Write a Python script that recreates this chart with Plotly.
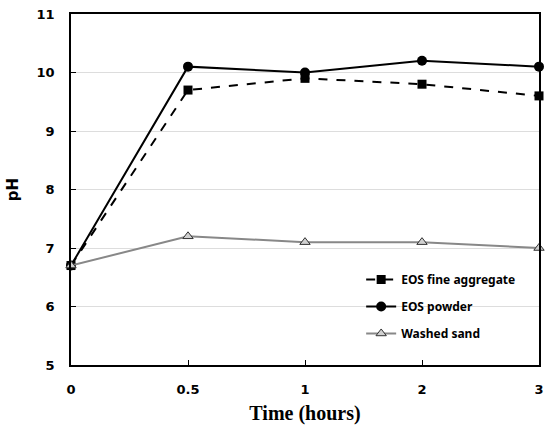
import plotly.graph_objects as go

time_labels = ["0", "0.5", "1", "2", "3"]
eos_fine = [6.7, 9.7, 9.9, 9.8, 9.6]
eos_powder = [6.7, 10.1, 10.0, 10.2, 10.1]
washed_sand = [6.7, 7.2, 7.1, 7.1, 7.0]

xpos = list(range(len(time_labels)))

fig = go.Figure()
fig.add_trace(go.Scatter(x=xpos, y=eos_fine, name="EOS fine aggregate", mode="lines+markers",
                         legendgroup="a",
                         line=dict(color="black", width=2, dash="dash"),
                         marker=dict(symbol="square", size=9, color="black"), cliponaxis=False))
fig.add_trace(go.Scatter(x=xpos, y=eos_powder, name="EOS powder", mode="lines+markers",
                         legendgroup="b",
                         line=dict(color="black", width=2),
                         marker=dict(symbol="circle", size=10, color="black"), cliponaxis=False))
fig.add_trace(go.Scatter(x=xpos, y=washed_sand, name="Washed sand", mode="lines+markers",
                         legendgroup="c",
                         line=dict(color="#888888", width=2),
                         marker=dict(symbol="triangle-up", size=9, color="#d0d0d0",
                                     line=dict(color="#333333", width=1)), cliponaxis=False))

fig.update_layout(
    width=547, height=431,
    margin=dict(l=71, r=3, t=14, b=66),
    paper_bgcolor="white", plot_bgcolor="white",
    font=dict(family="DejaVu Sans", color="black"),
    legend=dict(x=0.62, y=0.285, xanchor="left", yanchor="top",
                font=dict(family="Noto Sans", size=12, color="black", weight="bold"),
                bgcolor="rgba(0,0,0,0)", tracegroupgap=8, itemwidth=30,
                traceorder="grouped"),
    xaxis=dict(range=[0, 4], tickvals=xpos, ticktext=time_labels,
               showline=True, linecolor="black", linewidth=1.5, mirror=True,
               ticks="inside", ticklen=5, tickcolor="black", showgrid=False, zeroline=False,
               tickfont=dict(family="DejaVu Sans", size=13, weight="bold"),
               ticklabelstandoff=12,
               title=dict(text="<b>Time (hours)</b>", standoff=10,
                          font=dict(family="Liberation Serif", size=20))),
    yaxis=dict(range=[5, 11], dtick=1,
               showline=True, linecolor="black", linewidth=1.5, mirror=True,
               ticks="inside", ticklen=5, tickcolor="black",
               showgrid=True, gridcolor="#dddddd", gridwidth=1, zeroline=False,
               tickfont=dict(family="DejaVu Sans", size=13, weight="bold"),
               ticklabelstandoff=12,
               title=dict(text="<b>pH</b>", standoff=14,
                          font=dict(family="DejaVu Sans", size=15))),
)

fig.write_html("out.html")
